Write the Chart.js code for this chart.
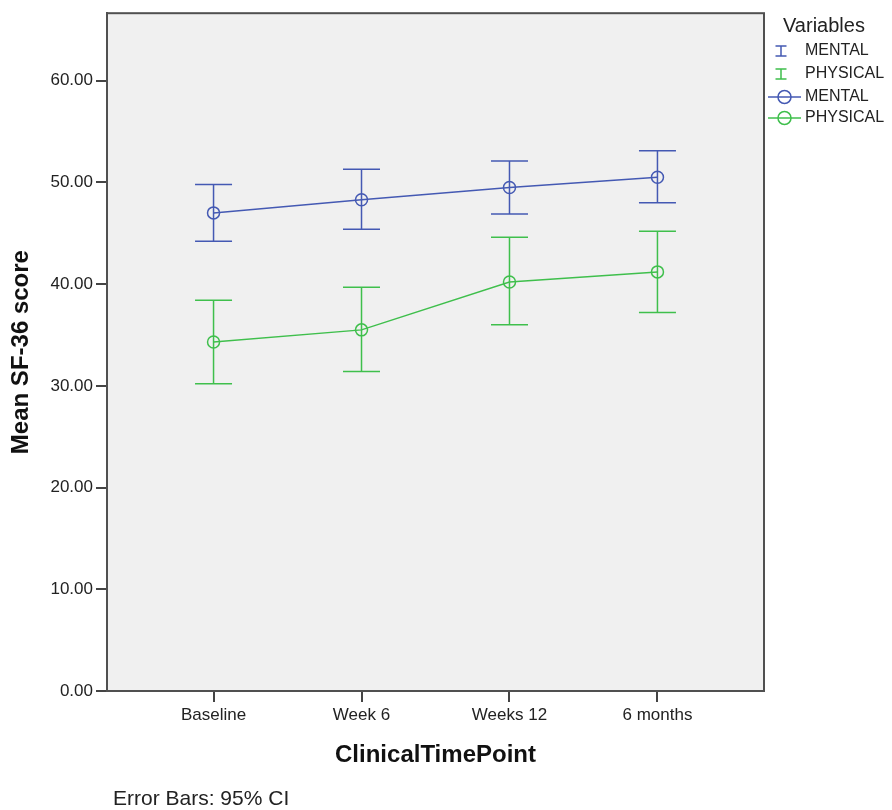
<!DOCTYPE html>
<html>
<head>
<meta charset="utf-8">
<script src="https://cdn.jsdelivr.net/npm/chart.js@4.4.1/dist/chart.umd.min.js"></script>
<style>
  html, body { margin: 0; padding: 0; background: #ffffff; }
  #wrap { position: relative; width: 892px; height: 810px; }
</style>
</head>
<body>
<div id="wrap"><canvas id="c" width="892" height="810"></canvas></div>
<script>
const categories = ['Baseline', 'Week 6', 'Weeks 12', '6 months'];
const mentalMean = [47.0, 48.3, 49.5, 50.5];
const mentalLower = [44.2, 45.4, 46.9, 48.0];
const mentalUpper = [49.8, 51.3, 52.1, 53.1];
const physicalMean = [34.3, 35.5, 40.2, 41.2];
const physicalLower = [30.2, 31.4, 36.0, 37.2];
const physicalUpper = [38.4, 39.7, 44.6, 45.2];
const yTicks = [0, 10, 20, 30, 40, 50, 60];
const seriesNames = ['MENTAL', 'PHYSICAL'];
const yTitle = 'Mean SF-36 score';
const xTitle = 'ClinicalTimePoint';
const legendTitle = 'Variables';
const footnote = 'Error Bars: 95% CI';

const BLUE = '#4459b3';
const GREEN = '#3fbf4c';
const FONT = '"Liberation Sans", Arial, sans-serif';

const toPoints = arr => arr.map((v, i) => ({ x: i, y: v }));

const errorBars = [
  { color: BLUE, lower: mentalLower, upper: mentalUpper },
  { color: GREEN, lower: physicalLower, upper: physicalUpper }
];

const framePlugin = {
  id: 'frame',
  beforeDraw(chart) {
    const { ctx, chartArea: a } = chart;
    ctx.save();
    ctx.fillStyle = '#f0f0f0';
    ctx.fillRect(a.left, a.top, a.right - a.left, a.bottom - a.top);
    ctx.restore();
  },
  beforeDatasetsDraw(chart) {
    const { ctx, scales } = chart;
    const x = scales.x, y = scales.y;
    ctx.save();
    ctx.lineWidth = 1.5;
    errorBars.forEach(eb => {
      ctx.strokeStyle = eb.color;
      eb.lower.forEach((lo, i) => {
        const px = x.getPixelForValue(i);
        const pLo = y.getPixelForValue(lo);
        const pHi = y.getPixelForValue(eb.upper[i]);
        ctx.beginPath();
        ctx.moveTo(px, pLo); ctx.lineTo(px, pHi);
        ctx.moveTo(px - 18.5, pLo); ctx.lineTo(px + 18.5, pLo);
        ctx.moveTo(px - 18.5, pHi); ctx.lineTo(px + 18.5, pHi);
        ctx.stroke();
      });
    });
    ctx.restore();
  },
  afterDraw(chart) {
    const { ctx, chartArea: a } = chart;
    ctx.save();
    ctx.strokeStyle = '#505050';
    ctx.lineWidth = 2;
    ctx.strokeRect(a.left, a.top, a.right - a.left, a.bottom - a.top);

    ctx.fillStyle = '#222';
    ctx.textBaseline = 'middle';
    ctx.textAlign = 'left';
    ctx.font = '20px ' + FONT;
    ctx.fillText(legendTitle, 783, 26);
    ctx.font = '16px ' + FONT;
    const colors = [BLUE, GREEN];
    const rows = [51, 74, 97, 118];
    ctx.lineWidth = 1.5;
    for (let k = 0; k < 2; k++) {
      const yy = rows[k];
      ctx.strokeStyle = colors[k];
      ctx.beginPath();
      ctx.moveTo(781, yy - 5); ctx.lineTo(781, yy + 5);
      ctx.moveTo(775.5, yy - 5); ctx.lineTo(786.5, yy - 5);
      ctx.moveTo(775.5, yy + 5); ctx.lineTo(786.5, yy + 5);
      ctx.stroke();
      ctx.fillStyle = '#222';
      ctx.fillText(seriesNames[k], 805, yy);
    }
    for (let k = 0; k < 2; k++) {
      const yy = rows[k + 2];
      ctx.strokeStyle = colors[k];
      ctx.beginPath();
      ctx.moveTo(768, yy); ctx.lineTo(801, yy);
      ctx.stroke();
      ctx.beginPath();
      ctx.arc(784.5, yy, 6.5, 0, Math.PI * 2);
      ctx.stroke();
      ctx.fillStyle = '#222';
      ctx.fillText(seriesNames[k], 805, yy);
    }

    ctx.font = '21px ' + FONT;
    ctx.fillStyle = '#222';
    ctx.fillText(footnote, 113, 799);
    ctx.restore();
  }
};

const lineDs = (label, data, color) => ({
  label,
  data: toPoints(data),
  borderColor: color,
  backgroundColor: 'rgba(0,0,0,0)',
  borderWidth: 1.5,
  pointRadius: 6,
  pointHoverRadius: 6,
  pointStyle: 'circle',
  pointBorderColor: color,
  pointBackgroundColor: 'rgba(0,0,0,0)',
  pointBorderWidth: 1.5,
  tension: 0,
  fill: false
});

new Chart(document.getElementById('c'), {
  type: 'line',
  data: {
    datasets: [
      lineDs(seriesNames[0], mentalMean, BLUE),
      lineDs(seriesNames[1], physicalMean, GREEN)
    ]
  },
  options: {
    responsive: false,
    animation: false,
    events: [],
    layout: { padding: { top: 12, right: 128, bottom: 0, left: 0 } },
    plugins: { legend: { display: false }, tooltip: { enabled: false } },
    scales: {
      x: {
        type: 'linear',
        min: -0.72,
        max: 3.72,
        afterFit: s => { s.height = 119; },
        afterBuildTicks: s => { s.ticks = categories.map((c, i) => ({ value: i })); },
        ticks: {
          callback: v => categories[v],
          font: { family: FONT, size: 17 },
          color: '#222',
          padding: 3,
          maxRotation: 0,
          autoSkip: false
        },
        grid: { drawOnChartArea: false, drawTicks: true, tickLength: 11, lineWidth: 2, color: '#444' },
        border: { display: true, color: '#505050', width: 2 },
        title: {
          display: true,
          text: xTitle,
          font: { family: FONT, size: 24, weight: 'bold' },
          color: '#111',
          padding: { top: 0, bottom: 40 }
        }
      },
      y: {
        type: 'linear',
        min: 0,
        max: 66.63,
        afterFit: s => { s.width = 107; },
        afterBuildTicks: s => { s.ticks = yTicks.map(v => ({ value: v })); },
        ticks: {
          callback: v => Number(v).toFixed(2),
          font: { family: FONT, size: 17 },
          color: '#222',
          padding: 3
        },
        grid: { drawOnChartArea: false, drawTicks: true, tickLength: 11, lineWidth: 2, color: '#444' },
        border: { display: true, color: '#505050', width: 2 },
        title: {
          display: true,
          text: yTitle,
          font: { family: FONT, size: 24, weight: 'bold' },
          color: '#111',
          padding: { top: 7, bottom: 0 }
        }
      }
    }
  },
  plugins: [framePlugin]
});
</script>
</body>
</html>
